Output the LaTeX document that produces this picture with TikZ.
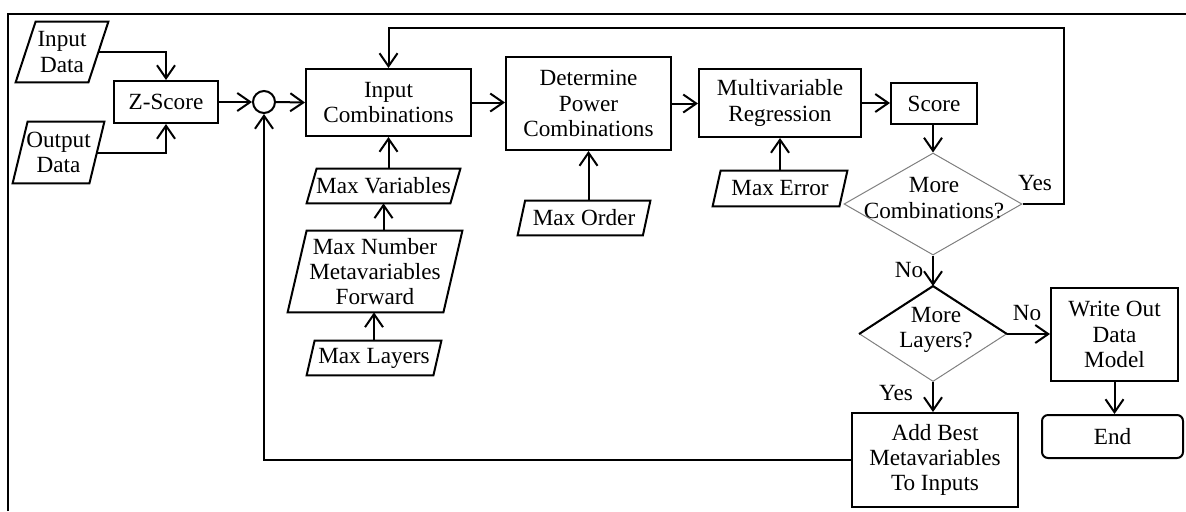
\documentclass[tikz,border=0pt]{standalone}
\usepackage{fontspec}
\setmainfont{Liberation Serif}
\usetikzlibrary{arrows.meta,shapes.geometric}
\begin{document}
\begin{tikzpicture}[x=0.5pt,y=-0.5pt,
  font=\fontsize{11.6}{12.6}\selectfont,
  box/.style={draw, line width=1pt, align=center, inner sep=0pt},
  io/.style={align=center, inner sep=0pt},
  lbl/.style={inner sep=0pt},
  arr/.style={line width=1pt, -{Straight Barb[length=6.5pt,width=9pt]}},
  paraline/.style={line width=1pt, line join=miter}]
\useasboundingbox (0,0) rectangle (1186,511);

% frame
\draw[line width=1pt] (8,511) -- (8,14) -- (1186,14);

% process boxes
\node[box, minimum width=52pt, minimum height=21pt] (zs) at (166,102) {Z-Score};
\node[box, minimum width=82.5pt, minimum height=33.5pt] (ic) at (388.5,102.5) {Input\\Combinations};
\node[box, minimum width=82.5pt, minimum height=46.5pt] (dpc) at (588.5,103.5) {Determine\\Power\\Combinations};
\node[box, minimum width=81pt, minimum height=34pt] (mr) at (780,103) {Multivariable\\Regression};
\node[box, minimum width=43pt, minimum height=20.5pt] (sc) at (934,103.5) {Score};
\node[box, minimum width=63.5pt, minimum height=46.5pt] (wo) at (1114.5,334.5) {Write Out\\Data\\Model};
\node[box, rounded corners=3pt, minimum width=70.5pt, minimum height=21.5pt] (end) at (1112.5,436.5) {End};
\node[box, minimum width=83pt, minimum height=47pt] (ab) at (935,460) {Add Best\\Metavariables\\To Inputs};

% summing junction
\node[circle, draw, line width=1pt, minimum size=11pt, inner sep=0pt] (circ) at (264,102) {};

% decisions
\node[diamond, draw=black!50, line width=0.5pt, minimum width=89pt, minimum height=51pt, inner sep=0pt] (mcomb) at (933,204) {};
\node[lbl, align=center] (mcombt) at (934,198) {More\\Combinations?};
\node[diamond, draw=black!50, line width=0.5pt, minimum width=73.5pt, minimum height=47.5pt, inner sep=0pt] (mlq) at (933,334) {};
\draw[line width=1pt, line join=miter] (mlq.west) -- (mlq.north) -- (mlq.east);
\node[lbl, align=center] (mlqt) at (936,330) {More\\Layers?};

% inputs / parameters
\node[io, minimum width=46pt, minimum height=30pt] (ind) at (62,52) {Input\\Data};
\node[io, minimum width=45.5pt, minimum height=30.5pt] (outd) at (58.5,152.5) {Output\\Data};
\node[io, minimum width=76.5pt, minimum height=17pt] (mv) at (383.5,186) {Max Variables};
\node[io, minimum width=87pt, minimum height=40.5pt] (mn) at (375,271.5) {Max Number\\Metavariables\\Forward};
\node[io, minimum width=67pt, minimum height=17pt] (mlay) at (374,358) {Max Layers};
\node[io, minimum width=66pt, minimum height=17pt] (mo) at (584,218) {Max Order};
\node[io, minimum width=67pt, minimum height=17.5pt] (me) at (780,188.5) {Max Error};
\foreach \n/\s in {ind/10pt, outd/7.5pt, mv/5pt, mn/9.5pt, mlay/4pt, mo/3.75pt, me/4pt}
  \draw[paraline] ([xshift=\s]\n.north west) -- (\n.north east)
    -- ([xshift=-\s]\n.south east) -- (\n.south west) -- cycle;

% connectors
\coordinate (back) at (1064,28);
\draw[arr] ([xshift=-5pt]ind.east) -| (zs.north);
\draw[arr] ([xshift=-3.75pt]outd.east) -| (zs.south);
\draw[arr] (zs.east) -- (circ.west);
\draw[arr] (circ.east) -- (ic.west);
\draw[arr] (ic.east) -- (ic.east -| dpc.west);
\draw[arr] (dpc.east) -- (dpc.east -| mr.west);
\draw[arr] (mr.east) -- (mr.east -| sc.west);
\draw[arr] (mcomb.north |- sc.south) -- (mcomb.north);
\draw[arr] (mcomb.east) -| (back) -| (ic.north);
\draw[arr] (mcomb.south) -- (mlq.north);
\draw[arr] (mlq.east) -- (mlq.east -| wo.west);
\draw[arr] (mlq.south) -- (mlq.south |- ab.north);
\draw[arr] (wo.south) -- (wo.south |- end.north);
\draw[arr] (ab.west) -| (circ.south);
\draw[arr] (ic.south |- mv.north) -- (ic.south);
\draw[arr] (mv.south |- mn.north) -- (mv.south);
\draw[arr] (mlay.north) -- (mlay.north |- mn.south);
\draw[arr] (dpc.south |- mo.north) -- (dpc.south);
\draw[arr] (mr.south |- me.north) -- (mr.south);

% branch labels
\node[lbl] (yes1) at (1035,183) {Yes};
\node[lbl] (no1) at (909,270) {No};
\node[lbl] (no2) at (1027,313) {No};
\node[lbl] (yes2) at (896,393) {Yes};
\end{tikzpicture}
\end{document}
